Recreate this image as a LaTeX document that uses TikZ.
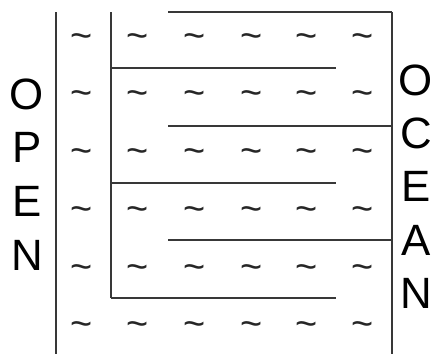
\documentclass[tikz,border=0pt]{standalone}
\usepackage{fontspec}
\setmainfont{Liberation Sans}
\begin{document}
\begin{tikzpicture}[x=1bp,y=-1bp,
  wall/.style={line width=1.6bp,draw=black!78},
  wave/.style={font=\fontsize{38}{38}\selectfont,inner sep=0pt,text=black!85,yshift=-4bp},
  letter/.style={font=\fontsize{44}{44}\selectfont,inner sep=0pt}]
\useasboundingbox (0,0) rectangle (434,354);
% walls
\coordinate (lt) at (56,12); \coordinate (lb) at (56,354);
\coordinate (rt) at (392,12); \coordinate (rb) at (392,354);
\coordinate (it) at (111,12); \coordinate (ib) at (111,298);
\draw[wall] (lt) -- (lb);
\draw[wall] (rt) -- (rb);
\draw[wall] (it) -- (ib);
% baffles from right wall
\foreach \y in {12,126,240} {\draw[wall] (168,\y) -- (392,\y);}
% baffles from inner wall
\foreach \y in {68,183,298} {\draw[wall] (111,\y) -- (336,\y);}
% waves
\foreach \x in {82,138,195,252,307,363}
  \foreach \y in {37,94,152,210,268,325}
    \node[wave] at (\x,\y) {\textasciitilde};
% letters
\node[letter] (o1) at (27,94) {O};
\node[letter] (p1) at (27,147) {P};
\node[letter] (e1) at (27,201) {E};
\node[letter] (n1) at (27,255) {N};
\node[letter] (o2) at (416,80) {O};
\node[letter] (c2) at (416,133) {C};
\node[letter] (e2) at (416,186) {E};
\node[letter] (a2) at (416,240) {A};
\node[letter] (n2) at (416,293) {N};
\end{tikzpicture}
\end{document}
